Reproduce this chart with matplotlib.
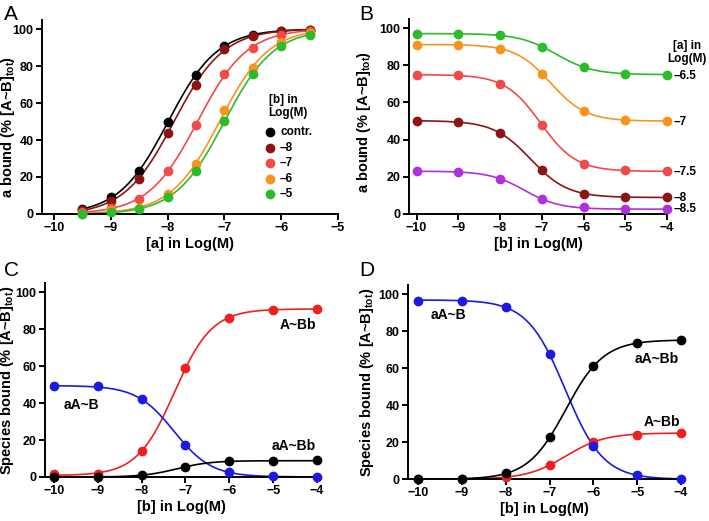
import numpy as np
import matplotlib
matplotlib.use('Agg')
import matplotlib.pyplot as plt

plt.rcParams['font.family'] = ['Liberation Sans', 'DejaVu Sans']
plt.rcParams['font.weight'] = 'bold'
plt.rcParams['axes.labelweight'] = 'bold'
plt.rcParams['mathtext.fontset'] = 'custom'
plt.rcParams['mathtext.rm'] = 'Liberation Sans:bold'
plt.rcParams['mathtext.bf'] = 'Liberation Sans:bold'

# Panel A: a bound vs [a], one series per [b]
a_log = [-9.5, -9.0, -8.5, -8.0, -7.5, -7.0, -6.5, -6.0, -5.5]
a_labels = ['contr.', '\u20138', '\u20137', '\u20136', '\u20135']
a_colors = ['#000000', '#8c1414', '#f04a4a', '#f7941d', '#2bbb2b']
a_contr = [2.5, 9, 23, 50, 75, 91, 97, 99, 99.5]
a_b8 = [2, 7, 19, 44, 70, 89, 96, 99, 99.5]
a_b7 = [1, 3, 8, 23.5, 48, 75.5, 90, 97, 99]
a_b6 = [0, 2, 3, 11, 27, 56, 79, 93, 98]
a_b5 = [0, 1, 2.5, 9, 23.5, 50.5, 75.5, 91, 97]

# Panel B: a bound vs [b], one series per [a]
b_log = [-10, -9, -8, -7, -6, -5, -4]
b_labels = ['\u20136.5', '\u20137', '\u20137.5', '\u20138', '\u20138.5']
b_colors = ['#2bbb2b', '#f7941d', '#f04a4a', '#8c1414', '#b030e0']
b_a65 = [97, 97, 96, 90, 79, 75.5, 75]
b_a7 = [91, 91, 89, 75.5, 55.5, 50.5, 50]
b_a75 = [75, 74.5, 70, 48, 27, 23.5, 23]
b_a8 = [50, 49.5, 43.5, 23.5, 11, 9, 9]
b_a85 = [23, 22.5, 19, 8, 3.5, 2.5, 2.5]

# Panel C and D: species bound vs [b]
species = ['A~Bb', 'aA~B', 'aA~Bb']
species_colors = ['#ee2020', '#1a1ae0', '#000000']
c_ABb = [1.5, 1.5, 14, 59, 86, 90.5, 91]
c_aAB = [49, 49, 42, 17.5, 2.5, 0.3, 0]
c_aABb = [0, 0, 1, 5.5, 8.5, 8.5, 9]
d_ABb = [0, 0, 1, 7.5, 20, 24, 25]
d_aAB = [96.5, 96.5, 93, 67.5, 18, 2, 0]
d_aABb = [0, 0, 3, 22.5, 61, 73.5, 75]


def sigmoid_fit(x, y):
    # least squares fit of y = bottom + (top-bottom)/(1+10^((x50-x)*h))
    x = np.asarray(x, float)
    y = np.asarray(y, float)
    x50 = np.arange(-11.5, -3.0, 0.01)[:, None, None]
    h = np.arange(0.3, 2.5, 0.01)[None, :, None]
    s = 1.0 / (1.0 + 10 ** ((x50 - x) * h))
    sm = s.mean(-1, keepdims=True)
    ym = y.mean()
    d = ((s - sm) * (y - ym)).sum(-1, keepdims=True) / ((s - sm) ** 2).sum(-1, keepdims=True)
    b = ym - d * sm
    sse = ((b + d * s - y) ** 2).sum(-1)
    i, j = np.unravel_index(np.argmin(sse), sse.shape)
    xs = np.linspace(x.min(), x.max(), 300)
    ss = 1.0 / (1.0 + 10 ** ((x50[i, 0, 0] - xs) * h[0, j, 0]))
    return xs, b[i, j, 0] + d[i, j, 0] * ss


def draw(ax, x, y, color):
    xs, ys = sigmoid_fit(x, y)
    ax.plot(xs, ys, color=color, lw=1.2, zorder=2)
    ax.plot(x, y, 'o', color=color, ms=6, zorder=3, clip_on=False)


def style(ax, xlim, xticks, xlabel, ylabel, ylab_pos):
    ax.set_xlim(*xlim)
    ax.set_ylim(0, 105)
    ax.set_xticks(xticks)
    ax.set_yticks([0, 20, 40, 60, 80, 100])
    ax.spines['top'].set_visible(False)
    ax.spines['right'].set_visible(False)
    ax.spines['left'].set_linewidth(1.4)
    ax.spines['bottom'].set_linewidth(1.4)
    ax.spines['left'].set_bounds(0, 105)
    ax.tick_params(width=1.4, length=4, labelsize=9, pad=2)
    ax.set_xlabel(xlabel, fontsize=10.5, labelpad=2)
    ax.set_ylabel(ylabel, fontsize=10.5)
    ax.yaxis.set_label_coords(*ylab_pos)


ylab_a = 'a bound (% [A~B]$_{\\mathrm{tot}}$)'
ylab_s = 'Species bound (% [A~B]$_{\\mathrm{tot}}$)'

fig = plt.figure(figsize=(7.09, 5.21), dpi=100)
axA = fig.add_axes([0.0592, 0.5893, 0.4175, 0.3727])
axB = fig.add_axes([0.5769, 0.5893, 0.3639, 0.3747])
axC = fig.add_axes([0.0635, 0.0845, 0.3836, 0.3725])
axD = fig.add_axes([0.5755, 0.0806, 0.3850, 0.3725])

# A
for y, c in zip([a_contr, a_b8, a_b7, a_b6, a_b5], a_colors):
    draw(axA, a_log, y, c)
style(axA, (-10.21, -5), [-10, -9, -8, -7, -6, -5],
      '[a] in Log(M)', ylab_a, (-0.083, 0.45))
axA.text(-6.22, 61.6, '[b] in', fontsize=8.5, va='center')
axA.text(-6.22, 54.6, 'Log(M)', fontsize=8.5, va='center')
for k, (lab, c) in enumerate(zip(a_labels, a_colors)):
    yy = 44.3 - k * 8.4
    axA.plot(-6.2, yy, 'o', color=c, ms=6)
    axA.text(-6.02, yy, lab, fontsize=8.5, va='center')

# B
for y, c, lab in zip([b_a65, b_a7, b_a75, b_a8, b_a85], b_colors, b_labels):
    draw(axB, b_log, y, c)
    axB.text(-3.84, y[-1] - (0.6 if lab != '\u20138.5' else 0), lab, fontsize=8.5,
             va='center', clip_on=False)
style(axB, (-10.18, -4), [-10, -9, -8, -7, -6, -5, -4],
      '[b] in Log(M)', ylab_a, (-0.138, 0.47))
axB.text(-3.52, 90.3, '[a] in', fontsize=8.5, ha='center', va='center', clip_on=False)
axB.text(-3.52, 83.3, 'Log(M)', fontsize=8.5, ha='center', va='center', clip_on=False)

# C
for y, c in zip([c_ABb, c_aAB, c_aABb], species_colors):
    draw(axC, b_log, y, c)
style(axC, (-10.2, -4), [-10, -9, -8, -7, -6, -5, -4],
      '[b] in Log(M)', ylab_s, (-0.105, 0.5))
for lab, (tx, ty) in zip(species, [(-4.43, 82), (-9.37, 39), (-4.54, 17)]):
    axC.text(tx, ty, lab, fontsize=10, ha='center', va='center')

# D
for y, c in zip([d_ABb, d_aAB, d_aABb], species_colors):
    draw(axD, b_log, y, c)
style(axD, (-10.23, -4), [-10, -9, -8, -7, -6, -5, -4],
      '[b] in Log(M)', ylab_s, (-0.119, 0.5))
for lab, (tx, ty) in zip(species, [(-4.44, 31), (-9.31, 89), (-4.55, 65)]):
    axD.text(tx, ty, lab, fontsize=10, ha='center', va='center')

for lab, (fx, fy) in zip('ABCD', [(0.006, 0.99), (0.506, 0.99), (0.006, 0.50), (0.506, 0.50)]):
    fig.text(fx, fy, lab, fontsize=15, fontweight='normal', va='top', ha='left')

fig.savefig('out.png', dpi=100)
